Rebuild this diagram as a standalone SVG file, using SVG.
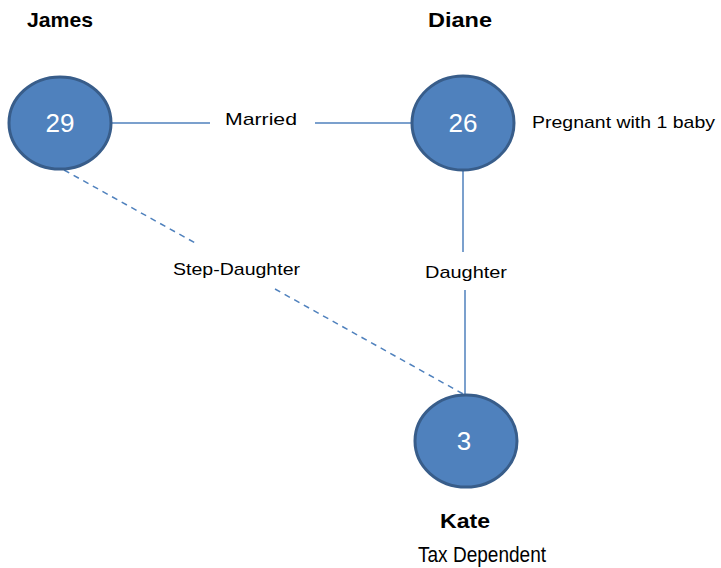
<svg xmlns="http://www.w3.org/2000/svg" width="721" height="568" viewBox="0 0 721 568">
<style>
.node{fill:#4F81BD;stroke:#385D8A;stroke-width:3}
.num{font-family:"Liberation Sans",Arial,sans-serif;font-size:26px;fill:#FFFFFF;text-anchor:middle}
.name{font-family:"Liberation Sans",Arial,sans-serif;font-size:21px;font-weight:bold;fill:#000000;text-anchor:middle}
.lbl{font-family:"Liberation Sans",Arial,sans-serif;font-size:17px;fill:#000000}
.edge{stroke:#4F81BD;stroke-width:1.5;fill:none}
.dash{stroke-dasharray:6 5}
</style>
<rect width="721" height="568" fill="#FFFFFF"/>
<g id="connectors">
<line class="edge" x1="112" y1="123" x2="210" y2="123"/>
<line class="edge" x1="315" y1="123" x2="412" y2="123"/>
<line class="edge" x1="463" y1="170" x2="463" y2="252"/>
<line class="edge" x1="465" y1="290" x2="465" y2="395"/>
<line class="edge dash" x1="64" y1="170" x2="197" y2="244"/>
<line class="edge dash" x1="275" y1="289" x2="465" y2="395"/>
<text class="lbl" x="225" y="125" textLength="72" lengthAdjust="spacingAndGlyphs">Married</text>
<text class="lbl" x="425" y="278" textLength="82" lengthAdjust="spacingAndGlyphs">Daughter</text>
<text class="lbl" x="173" y="275" textLength="127" lengthAdjust="spacingAndGlyphs">Step-Daughter</text>
</g>
<g id="james">
<ellipse class="node" cx="60" cy="123" rx="51" ry="46"/>
<text class="num" x="60" y="132">29</text>
<text class="name" x="60" y="27" textLength="66" lengthAdjust="spacingAndGlyphs">James</text>
</g>
<g id="diane">
<ellipse class="node" cx="463" cy="123" rx="51" ry="47"/>
<text class="num" x="463" y="132">26</text>
<text class="name" x="460" y="27" textLength="64" lengthAdjust="spacingAndGlyphs">Diane</text>
<text class="lbl" x="532" y="128" textLength="183" lengthAdjust="spacingAndGlyphs">Pregnant with 1 baby</text>
</g>
<g id="kate">
<ellipse class="node" cx="466" cy="441" rx="51" ry="46"/>
<text class="num" x="464" y="450">3</text>
<text class="name" x="465" y="528" textLength="50" lengthAdjust="spacingAndGlyphs">Kate</text>
<text class="lbl" x="418" y="562" style="font-size:22px" textLength="128" lengthAdjust="spacingAndGlyphs">Tax Dependent</text>
</g>
</svg>
